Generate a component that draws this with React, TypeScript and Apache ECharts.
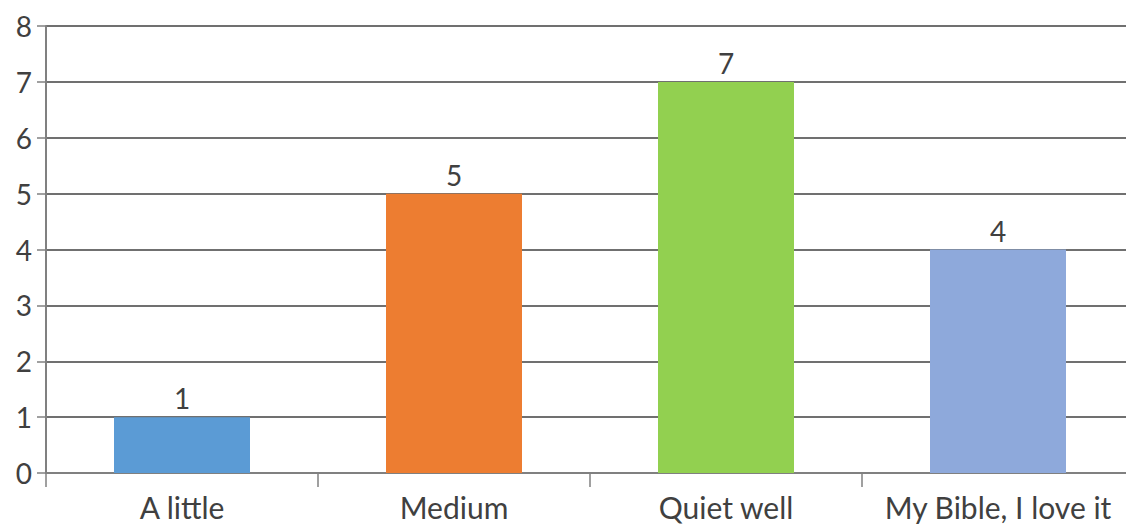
import React, { useEffect, useRef } from "react";
import * as echarts from "echarts";

const categories = ["A little", "Medium", "Quiet well", "My Bible, I love it"];
const values = [1, 5, 7, 4];
const barColors = ["#5B9BD5", "#ED7D31", "#92D050", "#8EA9DB"];

export default function App() {
  const ref = useRef<HTMLDivElement>(null);
  useEffect(() => {
    const chart = echarts.init(ref.current!, null, { renderer: "svg" });
    chart.setOption({
      animation: false,
      textStyle: { fontFamily: "Lato, 'Open Sans', sans-serif" },
      grid: { left: 46, right: 0, top: 26, bottom: 53, containLabel: false },
      xAxis: {
        type: "category",
        data: categories,
        axisLine: { lineStyle: { color: "#808080", width: 2 } },
        axisTick: { show: true, length: 14, lineStyle: { color: "#808080", width: 1.5 } },
        axisLabel: { color: "#404040", fontSize: 30, margin: 19, interval: 0 },
        splitLine: { show: false },
      },
      yAxis: {
        type: "value",
        min: 0,
        max: 8,
        interval: 1,
        axisLine: { show: true, lineStyle: { color: "#808080", width: 2 } },
        axisTick: { show: true, length: 9, lineStyle: { color: "#808080", width: 1.5 } },
        axisLabel: { color: "#404040", fontSize: 28, margin: 14 },
        splitLine: { show: true, lineStyle: { color: "#707070", width: 2 } },
      },
      series: [
        {
          type: "bar",
          data: values.map((v, i) => ({ value: v, itemStyle: { color: barColors[i] } })),
          barWidth: "50%",
          label: { show: true, position: "top", color: "#404040", fontSize: 28, distance: 5 },
        },
      ],
    });
    return () => chart.dispose();
  }, []);
  return (
    <div
      style={{
        position: "fixed",
        left: 0,
        top: 0,
        width: 1126,
        height: 526,
        overflow: "hidden",
        background: "#fff",
      }}
    >
      <div ref={ref} style={{ width: 1134, height: 526 }} />
    </div>
  );
}
